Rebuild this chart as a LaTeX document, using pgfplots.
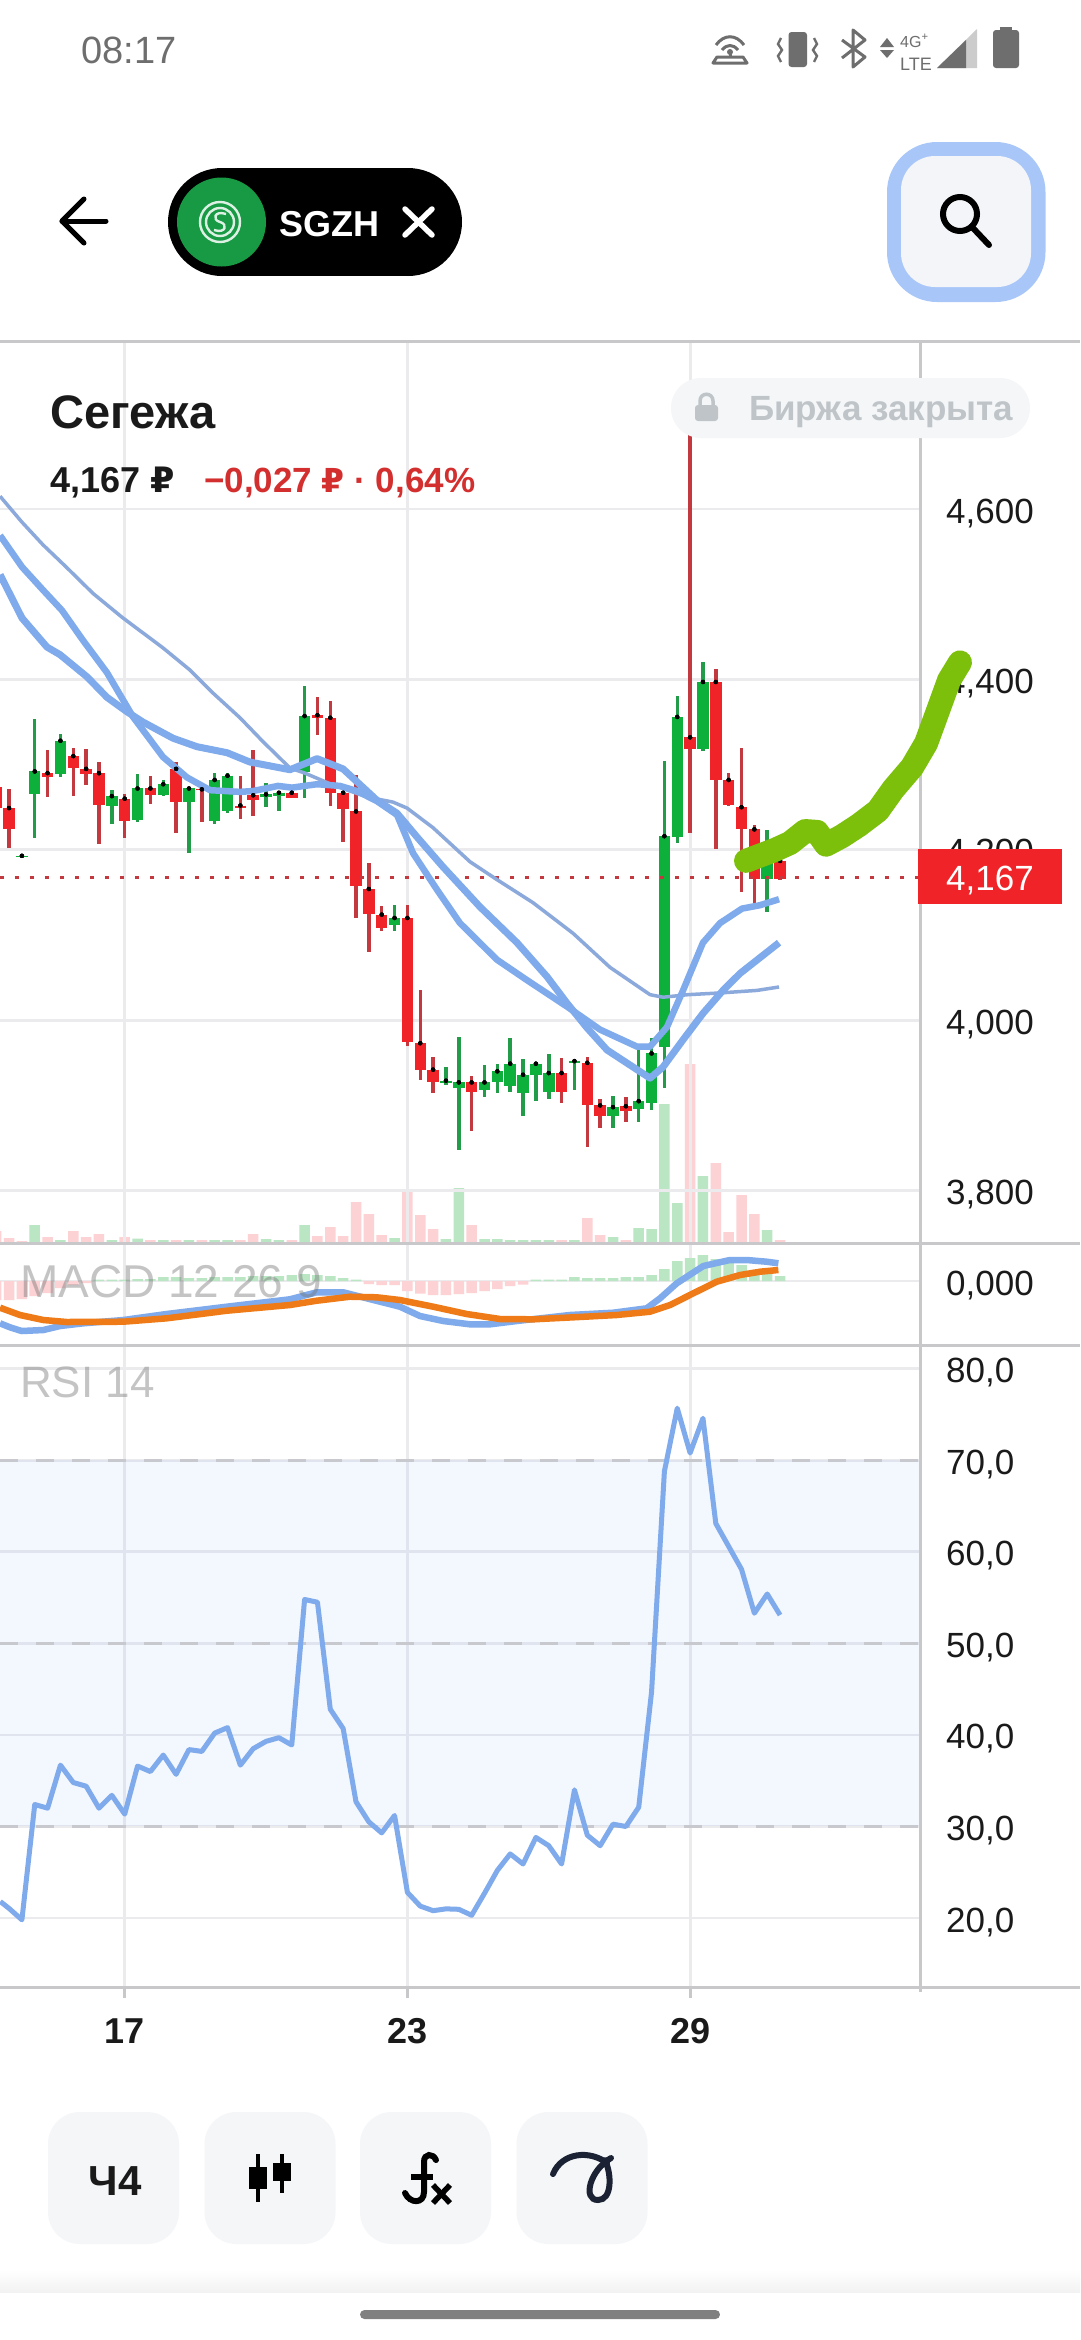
\documentclass[border=0pt]{standalone}
\usepackage{fontspec}
\usepackage{pgfplots}
\usepackage{pgfplotstable}
\pgfplotsset{compat=1.18}
\setmainfont{Liberation Sans}
\newfontfamily\dv{DejaVu Sans}
\newcommand{\F}[1]{\fontsize{#1}{#1}\selectfont}
\definecolor{cred}{HTML}{F02428}
\definecolor{cgreen}{HTML}{0DB03A}
\definecolor{wred}{HTML}{C23A40}
\definecolor{wgreen}{HTML}{239C4A}
\definecolor{vred}{HTML}{FCD2D5}
\definecolor{vgreen}{HTML}{BAE6C4}
\definecolor{ma}{HTML}{7FAAEB}
\definecolor{mathin}{HTML}{8CA9DC}
\definecolor{morange}{HTML}{EE7B17}
\definecolor{gridc}{HTML}{EBEBEE}
\definecolor{axisc}{HTML}{C8C8CA}
\definecolor{dashc}{HTML}{C8C9CE}
\definecolor{bandc}{HTML}{4C8CF0}
\definecolor{inkc}{HTML}{1A1A1A}
\definecolor{statc}{HTML}{6E6E6E}
\definecolor{draw}{HTML}{7CC00C}
\definecolor{soft}{HTML}{F4F6F8}
\definecolor{softtx}{HTML}{BFC4C8}
\definecolor{redtx}{HTML}{D32F2F}
\definecolor{logoc}{HTML}{189A45}
\definecolor{ringc}{HTML}{A8C7F8}
\definecolor{btnc}{HTML}{F3F5F8}
\definecolor{curvec}{HTML}{1A2233}

% candles: i high low top bottom of body (roubles)
\pgfplotstableread{
i high low top bot
-10 4.276 4.247 4.274 4.249
-9 4.271 4.202 4.249 4.225
-6 4.317 4.262 4.290 4.286
-4 4.320 4.263 4.310 4.296
-3 4.318 4.276 4.295 4.289
-2 4.303 4.207 4.290 4.253
0 4.266 4.214 4.260 4.234
2 4.287 4.254 4.272 4.264
4 4.303 4.220 4.295 4.256
6 4.271 4.233 4.271 4.270
9 4.287 4.236 4.252 4.249
10 4.317 4.240 4.264 4.259
13 4.269 4.261 4.267 4.261
15 4.379 4.335 4.358 4.355
16 4.375 4.251 4.355 4.267
17 4.268 4.209 4.267 4.248
18 4.288 4.120 4.245 4.157
19 4.185 4.080 4.154 4.125
20 4.134 4.105 4.124 4.108
22 4.135 3.970 4.120 3.974
23 4.035 3.930 3.973 3.942
24 3.957 3.915 3.942 3.927
27 3.934 3.870 3.927 3.916
34 3.956 3.903 3.938 3.916
36 3.957 3.851 3.950 3.901
37 3.907 3.874 3.900 3.887
39 3.910 3.881 3.899 3.894
44 4.700 4.220 4.332 4.318
46 4.412 4.201 4.397 4.282
47 4.290 4.251 4.282 4.253
48 4.319 4.151 4.250 4.224
49 4.229 4.137 4.224 4.166
51 4.190 4.164 4.187 4.166
}\redcandles
\pgfplotstableread{
i high low top bot
-8 4.194 4.190 4.193 4.191
-7 4.354 4.214 4.292 4.266
-5 4.336 4.286 4.328 4.289
-1 4.270 4.230 4.263 4.252
1 4.289 4.233 4.272 4.235
3 4.282 4.263 4.277 4.264
5 4.272 4.196 4.272 4.256
7 4.290 4.230 4.282 4.234
8 4.290 4.243 4.287 4.245
11 4.279 4.250 4.265 4.262
12 4.269 4.246 4.267 4.263
14 4.392 4.261 4.357 4.291
21 4.135 4.105 4.120 4.112
25 3.945 3.924 3.929 3.926
26 3.980 3.848 3.927 3.920
28 3.947 3.910 3.927 3.918
29 3.949 3.915 3.940 3.928
30 3.979 3.916 3.949 3.923
31 3.955 3.888 3.936 3.915
32 3.949 3.905 3.949 3.936
33 3.960 3.907 3.938 3.916
35 3.952 3.918 3.952 3.950
38 3.911 3.874 3.898 3.887
40 3.966 3.881 3.905 3.896
41 3.979 3.895 3.961 3.903
42 4.304 3.921 4.216 3.969
43 4.380 4.208 4.356 4.215
45 4.421 4.316 4.397 4.318
50 4.223 4.127 4.190 4.166
}\greencandles
% volume, same x
\pgfplotstableread{
i v
-10 12
-9 5
-8 2
-6 6
-4 12
-3 6
-2 9
0 6
2 3
4 3
6 3
9 3
10 9
13 3
15 7
16 16
17 7
18 41
19 29
20 8
22 51
23 28
24 14
27 18
34 3
36 25
37 8
39 3
44 179
46 80
47 11
48 48
49 29
51 3
}\redvol
\pgfplotstableread{
i v
-7 18
-5 3
-1 3
1 4.5
3 3
5 3
7 3
8 3
11 4
12 3
14 18
21 5
25 4
26 55
28 4
29 4
30 3
31 3
32 3
33 3
35 3
38 6
40 15
41 14
42 139
43 40
45 67
50 13
}\greenvol
% moving averages
\pgfplotstableread{
x y
-9.70 4.523
-7.99 4.472
-6.05 4.438
-5.03 4.429
-2.93 4.403
-1.38 4.379
0.18 4.362
1.42 4.350
3.76 4.331
5.63 4.321
7.96 4.314
9.75 4.303
12.86 4.294
14.97 4.307
16.99 4.295
19.64 4.258
21.19 4.243
22.75 4.215
24.77 4.180
27.65 4.133
30.53 4.091
32.87 4.051
34.42 4.020
35.98 3.991
37.54 3.965
40.88 3.932
41.89 3.945
43.45 3.977
45.00 4.008
46.56 4.035
47.89 4.055
50.92 4.091
}\maone
\pgfplotstableread{
x y
-9.70 4.569
-7.99 4.532
-6.36 4.505
-4.88 4.481
-3.25 4.446
-1.38 4.408
0.65 4.356
2.98 4.309
4.85 4.285
6.64 4.270
8.97 4.268
9.98 4.269
11.93 4.275
13.02 4.273
14.97 4.277
16.75 4.275
18.08 4.269
19.64 4.257
21.19 4.241
22.44 4.196
24.31 4.153
26.09 4.114
28.97 4.071
31.31 4.047
34.42 4.016
36.99 3.989
39.87 3.969
40.88 3.969
42.20 3.992
43.45 4.035
45.00 4.091
46.33 4.114
48.04 4.131
49.44 4.135
50.92 4.142
}\matwo
\pgfplotstableread{
x y
-9.70 4.615
-8.02 4.585
-6.36 4.558
-4.49 4.531
-2.47 4.501
-0.21 4.473
2.98 4.437
5.08 4.411
6.87 4.384
8.97 4.355
10.76 4.327
12.86 4.296
14.03 4.290
16.21 4.276
18.86 4.262
20.88 4.256
21.97 4.249
23.99 4.226
26.87 4.186
28.97 4.165
31.77 4.138
34.89 4.102
37.77 4.062
40.88 4.030
41.89 4.027
43.84 4.030
46.33 4.032
49.21 4.035
50.92 4.039
}\mathree
% hand-drawn green stroke
\pgfplotstableread{
x y
48.35 4.187
50.61 4.200
51.78 4.208
52.95 4.222
53.88 4.221
54.58 4.206
55.82 4.216
57.14 4.229
58.62 4.246
59.80 4.271
61.27 4.297
62.36 4.325
63.21 4.360
64.15 4.399
65.00 4.420
}\stroke
% MACD
\pgfplotstableread{
x y
-9.70 -0.0423
-8.93 -0.0463
-8.02 -0.0500
-6.33 -0.0490
-5.03 -0.0450
-3.22 -0.0423
-0.11 -0.0390
3.27 -0.0330
7.94 -0.0257
12.86 -0.0183
14.94 -0.0113
17.01 -0.0113
18.83 -0.0173
20.90 -0.0240
21.42 -0.0257
22.98 -0.0350
24.79 -0.0400
26.87 -0.0433
28.43 -0.0433
30.51 -0.0400
34.65 -0.0340
38.02 -0.0317
40.62 -0.0273
41.66 -0.0173
42.96 -0.0023
45.03 0.0150
47.10 0.0210
48.40 0.0210
49.96 0.0193
50.87 0.0177
}\macdline
\pgfplotstableread{
x y
-9.70 -0.0267
-8.15 -0.0340
-6.33 -0.0390
-4.51 -0.0410
-0.11 -0.0407
3.27 -0.0373
7.94 -0.0297
12.86 -0.0240
14.94 -0.0197
17.53 -0.0157
19.61 -0.0163
21.42 -0.0190
24.01 -0.0257
26.61 -0.0330
29.21 -0.0380
31.80 -0.0383
34.91 -0.0363
38.28 -0.0340
40.88 -0.0307
42.44 -0.0240
44.25 -0.0123
46.07 -0.0007
47.89 0.0060
49.44 0.0093
50.87 0.0110
}\signalline
\pgfplotstableread{
i v
-10 -0.019
-9 -0.019
-8 -0.018
-7 -0.015
-6 -0.012
-5 -0.007
-4 -0.004
-3 -0.002
19 -0.003
20 -0.004
21 -0.004
22 -0.010
23 -0.0125
24 -0.014
25 -0.014
26 -0.013
27 -0.012
28 -0.010
29 -0.008
30 -0.005
31 -0.0035
}\histred
\pgfplotstableread{
i v
-2 0.0015
-1 0.0015
0 0.0015
1 0.002
2 0.002
3 0.004
4 0.004
5 0.003
6 0.003
7 0.004
8 0.004
9 0.004
10 0.005
11 0.005
12 0.005
13 0.006
14 0.007
15 0.006
16 0.005
17 0.003
18 0.0015
32 0.0015
33 0.0015
34 0.0015
35 0.004
36 0.003
37 0.003
38 0.003
39 0.004
40 0.004
41 0.006
42 0.012
43 0.020
44 0.023
45 0.026
46 0.022
47 0.019
48 0.016
49 0.009
50 0.007
51 0.005
}\histgreen
% RSI
\pgfplotstableread{
x y
-9.68 21.8
-9 21.05
-8 19.8
-7 32.4
-6 32.0
-5 36.7
-4 34.8
-3 34.4
-2 32.0
-1 33.4
0 31.35
1 36.6
2 36.0
3 37.8
4 35.7
5 38.4
6 38.2
7 40.2
8 40.8
9 36.7
10 38.5
11 39.3
12 39.7
13 38.9
14 54.8
15 54.5
16 42.8
17 40.7
18 32.7
19 30.5
20 29.3
21 31.2
22 22.8
23 21.3
24 20.8
25 21.0
26 20.95
27 20.3
28 22.7
29 25.2
30 27.0
31 25.9
32 28.8
33 27.9
34 25.9
35 34.0
36 29.05
37 27.9
38 30.25
39 30.0
40 32.1
41 44.7
42 68.8
43 75.7
44 70.8
45 74.6
46 63.1
47 60.6
48 58.1
49 53.3
50 55.4
51 53.1
}\rsi

\pgfplotsset{
  panel/.style={
    scale only axis, width=920pt, anchor=south west,
    xmin=-9.704, xmax=61.89,
    xtick={0,22,44},
    axis line style={draw=none},
    major tick length=0pt,
    tick style={draw=none},
    grid=major,
    major grid style={draw=gridc, line width=2.8pt},
    scaled y ticks=false,
    yticklabel pos=right,
    ytick pos=right,
    yticklabel style={font=\F{35}, color=inkc, anchor=base west, inner sep=0pt, xshift=26pt, yshift=-14pt},
  },
  overlay/.style={
    scale only axis, width=920pt, anchor=south west,
    xmin=-9.704, xmax=61.89, hide axis, clip=false,
  },
}

\begin{document}
\begin{tikzpicture}
\useasboundingbox (0pt,0pt) rectangle (1080pt,-2340pt);
\fill[white] (0pt,0pt) rectangle (1080pt,-2340pt);

% volume underlay
\begin{axis}[overlay, at={(0pt,-1243pt)}, height=902pt, ymin=0, ymax=902]
\addplot[ybar, bar width=10.5pt, bar shift=0pt, fill=vred, draw=none] table[x=i,y=v] {\redvol};
\addplot[ybar, bar width=10.5pt, bar shift=0pt, fill=vgreen, draw=none] table[x=i,y=v] {\greenvol};
\end{axis}

% price panel
\begin{axis}[panel, at={(0pt,-1243pt)}, height=902pt, ymin=3.7385, ymax=4.7972,
  xticklabels={},
  ytick={3.8,4.0,4.2,4.4,4.6},
  yticklabels={{3,800},{4,000},{4,200},{4,400},{4,600}}]
\addplot[only marks, mark=none, error bars/.cd, y dir=both, y explicit, error mark=none,
  error bar style={draw=wred, line width=3.5pt}]
  table[x=i,y=top,y error plus expr=\thisrow{high}-\thisrow{top},y error minus expr=\thisrow{top}-\thisrow{low}] {\redcandles};
\addplot[only marks, mark=none, error bars/.cd, y dir=both, y explicit, error mark=none,
  error bar style={draw=wgreen, line width=3.5pt}]
  table[x=i,y=top,y error plus expr=\thisrow{high}-\thisrow{top},y error minus expr=\thisrow{top}-\thisrow{low}] {\greencandles};
\addplot[only marks, mark=none, error bars/.cd, y dir=minus, y explicit, error mark=none,
  error bar style={draw=cred, line width=11.5pt}]
  table[x=i,y=top,y error minus expr=\thisrow{top}-\thisrow{bot}] {\redcandles};
\addplot[only marks, mark=none, error bars/.cd, y dir=minus, y explicit, error mark=none,
  error bar style={draw=cgreen, line width=11.5pt}]
  table[x=i,y=top,y error minus expr=\thisrow{top}-\thisrow{bot}] {\greencandles};
\addplot[color=wred, line width=3pt, dash pattern=on 4pt off 11pt] coordinates {(-9.704,4.167)(61.89,4.167)};
\addplot[color=mathin, line width=3.5pt, line join=round] table {\mathree};
\addplot[color=ma, line width=6.5pt, line join=round] table {\matwo};
\addplot[color=ma, line width=7pt, line join=round] table {\maone};
\end{axis}

% MACD panel
\begin{axis}[panel, at={(0pt,-1345pt)}, height=102pt, ymin=-0.064, ymax=0.038,
  xticklabels={}, ytick={0}, yticklabel={0,000}]
\addplot[ybar, bar width=10.5pt, bar shift=0pt, fill=vred, draw=none] table[x=i,y=v] {\histred};
\addplot[ybar, bar width=10.5pt, bar shift=0pt, fill=vgreen, draw=none] table[x=i,y=v] {\histgreen};
\addplot[color=ma, line width=6.5pt, line join=round] table {\macdline};
\addplot[color=morange, line width=6.5pt, line join=round] table {\signalline};
\end{axis}

% RSI panel
\begin{axis}[panel, at={(0pt,-1987pt)}, height=642pt, ymin=12.46, ymax=82.6,
  xticklabels={17,23,29},
  xticklabel style={font=\F{36}\bfseries, color=inkc, anchor=base, inner sep=0pt, yshift=-56pt},
  ytick={20,30,40,50,60,70,80},
  yticklabels={{20,0},{30,0},{40,0},{50,0},{60,0},{70,0},{80,0}}]
\addplot[fill=bandc, fill opacity=0.065, draw=none] coordinates {(-9.704,30)(61.89,30)(61.89,70)(-9.704,70)} -- cycle;
\addplot[color=dashc, line width=3pt, dash pattern=on 18pt off 18pt] coordinates {(-9.704,30)(61.89,30)};
\addplot[color=dashc, line width=3pt, dash pattern=on 18pt off 18pt] coordinates {(-9.704,50)(61.89,50)};
\addplot[color=dashc, line width=3pt, dash pattern=on 18pt off 18pt] coordinates {(-9.704,70)(61.89,70)};
\addplot[color=ma, line width=5pt, line join=round] table {\rsi};
\end{axis}

\begin{scope}[x=1pt,y=-1pt]
% frame lines
\draw[axisc, line width=3pt] (0,341) -- (1080,341);
\draw[axisc, line width=3pt] (0,1243) -- (1080,1243);
\draw[axisc, line width=3pt] (0,1345) -- (1080,1345);
\draw[axisc, line width=3pt] (0,1987) -- (1080,1987);
\draw[axisc, line width=3pt] (920,341) -- (920,1992);
\foreach \tx in {124.7,407.4,690.1} \draw[axisc, line width=2.8pt] (\tx,1987) -- (\tx,1998);
% panel captions
\node[anchor=base west, inner sep=0pt, text=black!55, opacity=.42] at (20,1297) {\F{46}MACD 12 26 9};
\node[anchor=base west, inner sep=0pt, text=black!55, opacity=.42] at (20,1397) {\F{44}RSI 14};
% last-price tag
\fill[cred] (918,849) rectangle (1062,903.5);
\node[anchor=base west, inner sep=0pt, text=white] at (946,890) {\F{35}4,167};
% market-closed badge
\fill[soft, rounded corners=30pt] (671,378) rectangle (1030,438);
\fill[softtx, rounded corners=3pt] (695,405) rectangle (718,421);
\draw[softtx, line width=3.5pt] (700,406) -- (700,401) .. controls (700,392) and (713,392) .. (713,401) -- (713,406);
\node[anchor=base west, inner sep=0pt, text=softtx] at (749,420) {\F{35}\bfseries Биржа закрыта};
% title block
\node[anchor=base west, inner sep=0pt, text=inkc] at (50,428) {\F{47}\bfseries Сегежа};
\node[anchor=base west, inner sep=0pt, text=inkc] at (50,492) {\F{36}\bfseries 4,167 {\dv\F{35}\bfseries ₽}};
\node[anchor=base west, inner sep=0pt, text=redtx] at (204,492) {\F{35}\bfseries −0,027 {\dv\F{33}\bfseries ₽} · 0,64\%};
% status bar
\node[anchor=base west, inner sep=0pt, text=statc] at (81,63) {\F{38}08:17};
\begin{scope}[draw=statc, fill=statc]
\draw[line width=3pt] (716,45) .. controls (724,34) and (736,34) .. (744,45);
\draw[line width=3pt] (722,50) .. controls (727,44) and (733,44) .. (738,50);
\fill (730,52) circle (3);
\draw[line width=3pt] (730,52) -- (730,58);
\draw[line width=3pt, line join=round] (713,63) -- (747,63) -- (743,57) -- (717,57) -- cycle;
\fill[rounded corners=3pt] (788.5,32) rectangle (807,67);
\draw[line width=2.4pt] (781,38) -- (778,44) -- (782,50) -- (778,56) -- (781,62);
\draw[line width=2.4pt] (814,38) -- (817,44) -- (813,50) -- (817,56) -- (814,62);
\draw[line width=3pt, line join=round] (842,40) -- (865,57) -- (853,67) -- (853,30) -- (865,40) -- (842,58);
\fill (880,47) -- (894,47) -- (887,38) -- cycle;
\fill (880,50) -- (894,50) -- (887,58) -- cycle;
\fill[black!20] (937,68) -- (977,68) -- (977,29) -- cycle;
\fill (937,68) -- (966,68) -- (966,40) -- cycle;
\fill[rounded corners=3pt] (993,30) rectangle (1019,68);
\fill (1000,27) rectangle (1012,32);
\end{scope}
\node[anchor=base west, inner sep=0pt, text=statc] at (900,47) {\F{16}4G\textsuperscript{+}};
\node[anchor=base west, inner sep=0pt, text=statc] at (900,70) {\F{18}LTE};
% header
\draw[black, line width=5pt, line cap=round, line join=round] (62,221) -- (106,221);
\draw[black, line width=5pt, line cap=round, line join=round] (84,199) -- (62,221) -- (84,243);
\fill[black] (222,168) rectangle (408,276);
\fill[black] (222,222) circle (54);
\fill[black] (408,222) circle (54);
\fill[logoc] (221.5,222) circle (44.5);
\draw[white!85!logoc, line width=2.4pt] (220,222) circle (20);
\draw[white!85!logoc, line width=2.4pt] (220,222) circle (14);
\draw[white!85!logoc, line width=2.4pt] (226,214) .. controls (214,210) and (212,220) .. (220,222) .. controls (228,224) and (226,234) .. (214,230);
\node[anchor=base west, inner sep=0pt, text=white] at (279,236) {\F{36}\bfseries SGZH};
\draw[white, line width=5.5pt, line cap=round] (405,209) -- (432,235);
\draw[white, line width=5.5pt, line cap=round] (432,209) -- (405,235);
% search button
\fill[ringc, rounded corners=50pt] (887,142) rectangle (1045.5,302);
\fill[btnc, rounded corners=34pt] (901,156) rectangle (1031,287);
\draw[black, line width=6pt] (960,214) circle (17);
\draw[black, line width=6pt, line cap=round] (972,227) -- (989,245);
% bottom buttons
\foreach \bx in {48,204.5,360,516.5} \fill[soft, rounded corners=32pt] (\bx,2112) rectangle ++(131,132);
\node[anchor=base, inner sep=0pt, text=inkc] at (115,2195) {\F{42}\bfseries Ч4};
\fill[black] (249,2167) rectangle (267,2189);
\draw[black, line width=4pt] (258,2154) -- (258,2202);
\fill[black] (273,2163) rectangle (291,2181);
\draw[black, line width=4pt] (282,2154) -- (282,2193);
\draw[black, line width=6pt, line cap=round] (436,2160) .. controls (433,2153) and (424,2153) .. (424,2162) -- (424,2192) .. controls (424,2204) and (410,2204) .. (405,2193);
\draw[black, line width=6pt] (411,2177) -- (433,2177);
\draw[black, line width=5.5pt] (433,2185) -- (450,2203);
\draw[black, line width=5.5pt] (450,2185) -- (433,2203);
\draw[curvec, line width=6pt, line cap=round] (553,2174) .. controls (562,2152) and (590,2150) .. (607,2163);
\draw[curvec, line width=6pt, line cap=round] (611,2158) .. controls (590,2170) and (582,2200) .. (598,2200) .. controls (612,2200) and (612,2175) .. (605,2160);
% navigation
\shade[top color=white, bottom color=black!5] (0,2270) rectangle (1080,2292);
\fill[black!50, rounded corners=4.5pt] (360,2310) rectangle (720,2319);
\end{scope}

% hand-drawn stroke, on top of the tick labels
\begin{axis}[overlay, at={(0pt,-1243pt)}, height=902pt, ymin=3.7385, ymax=4.7972]
\addplot[color=draw, line width=24pt, line cap=round, line join=round] table {\stroke};
\end{axis}
\end{tikzpicture}
\end{document}
